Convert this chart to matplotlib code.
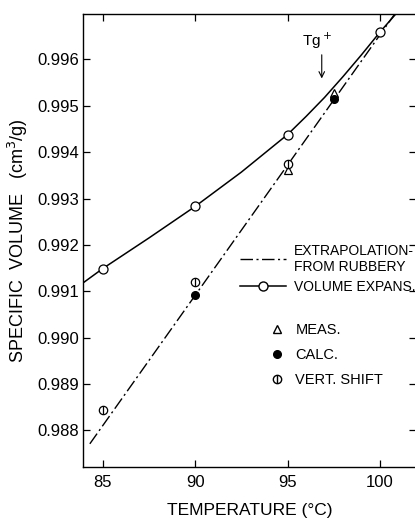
import matplotlib
matplotlib.use("Agg")
import matplotlib.pyplot as plt
from matplotlib.lines import Line2D

plt.rcParams['font.family'] = ['Liberation Sans', 'DejaVu Sans']

# Volume expansion (open circles) data points
ve_temp = [85, 90, 95, 100]
ve_vol = [0.99149, 0.99283, 0.99438, 0.99659]
# Volume expansion curve
ve_curve_t = [84.0, 85.0, 87.5, 90.0, 92.5, 95.0, 96.0, 97.0, 98.0, 99.0, 100.0, 100.9]
ve_curve_v = [0.99120, 0.99149, 0.99215, 0.99283, 0.99357, 0.99438, 0.99477, 0.99518, 0.99563, 0.99610, 0.99659, 0.99700]

# Extrapolation from rubbery (dash-dot line) end points
ex_t = [84.3, 100.8]
ex_v = [0.98771, 0.99698]

# Measured (triangles)
meas_t = [95, 97.5]
meas_v = [0.99362, 0.99528]
# Calculated (filled circles)
calc_t = [90, 97.5]
calc_v = [0.99093, 0.99514]
# Vertical shift (circle with bar)
vs_t = [85, 90, 95]
vs_v = [0.98845, 0.99120, 0.99374]

xticks = [85, 90, 95, 100]
yticks = [0.988, 0.989, 0.990, 0.991, 0.992, 0.993, 0.994, 0.995, 0.996]
ytick_labels = ['0.988', '0.989', '0.990', '0.991', '0.992', '0.993', '0.994', '0.995', '0.996']

W, H = 415, 518
fig = plt.figure(figsize=(W / 100, H / 100), dpi=100)
ax = fig.add_axes([83 / W, (518 - 467) / H, (416 - 83) / W, (467 - 14) / H])
ax.set_xlim(83.93, 101.95)
ax.set_ylim(0.98721, 0.99698)

lw = 1.1
dd = (0, (9, 2.5, 1.5, 2.5))
ax.plot(ve_curve_t, ve_curve_v, color='black', lw=lw, zorder=2)
ax.plot(ex_t, ex_v, color='black', lw=1.0, linestyle=dd, zorder=2)
ax.plot(ve_temp, ve_vol, linestyle='none', marker='o', ms=6.5, mfc='white', mec='black', mew=0.9, zorder=4)
ax.plot(meas_t, meas_v, linestyle='none', marker='^', ms=5.5, mfc='white', mec='black', mew=0.9, zorder=3)
ax.plot(calc_t, calc_v, linestyle='none', marker='o', ms=5.5, mfc='black', mec='black', zorder=3)
ax.plot(vs_t, vs_v, linestyle='none', marker='o', ms=6, mfc='white', mec='black', mew=0.9, zorder=4)
ax.plot(vs_t, vs_v, linestyle='none', marker='|', ms=6, mec='black', mew=0.9, zorder=5)

ax.set_xticks(xticks)
ax.set_yticks(yticks)
ax.set_yticklabels(ytick_labels)
ax.tick_params(direction='in', length=5, width=0.9, labelsize=12, top=True, right=True, pad=3)
ax.tick_params(axis='x', pad=6)
for s in ax.spines.values():
    s.set_linewidth(1.0)

ax.set_xlabel('TEMPERATURE (°C)', fontsize=12.5, labelpad=9)
ax.set_ylabel('SPECIFIC  VOLUME   (cm$^3$/g)', fontsize=13, labelpad=5)

# Tg+ annotation
ax.annotate('', xy=(96.85, 0.99553), xytext=(96.85, 0.99616),
            arrowprops=dict(arrowstyle='->', color='black', lw=0.8))
ax.text(96.6, 0.99640, 'Tg$^+$', fontsize=11, ha='center', va='center')

h1 = [Line2D([], [], color='black', lw=1.0, linestyle=dd),
      Line2D([], [], color='black', lw=lw, marker='o', ms=6.5, mfc='white', mec='black')]
leg1 = ax.legend(h1, ['EXTRAPOLATION-\nFROM RUBBERY', 'VOLUME EXPANS.'],
                 loc='upper left', bbox_to_anchor=(230 / W, 1 - 234 / H),
                 bbox_transform=fig.transFigure, frameon=False, fontsize=10,
                 handlelength=3.3, handletextpad=0.6, labelspacing=0.45, borderpad=0.2)
ax.add_artist(leg1)

vs_handle = (Line2D([], [], linestyle='none', marker='o', ms=6, mfc='white', mec='black'),
             Line2D([], [], linestyle='none', marker='|', ms=6, mec='black'))
h2 = [Line2D([], [], linestyle='none', marker='^', ms=5.5, mfc='white', mec='black'),
      Line2D([], [], linestyle='none', marker='o', ms=5.5, mfc='black', mec='black'),
      vs_handle]
ax.legend(h2, ['MEAS.', 'CALC.', 'VERT. SHIFT'],
          loc='upper left', bbox_to_anchor=(259 / W, 1 - 313 / H),
          bbox_transform=fig.transFigure, frameon=False, fontsize=10.5,
          handlelength=1.0, handletextpad=0.8, labelspacing=0.75, borderpad=0.2)

fig.savefig('out.png', dpi=100)
